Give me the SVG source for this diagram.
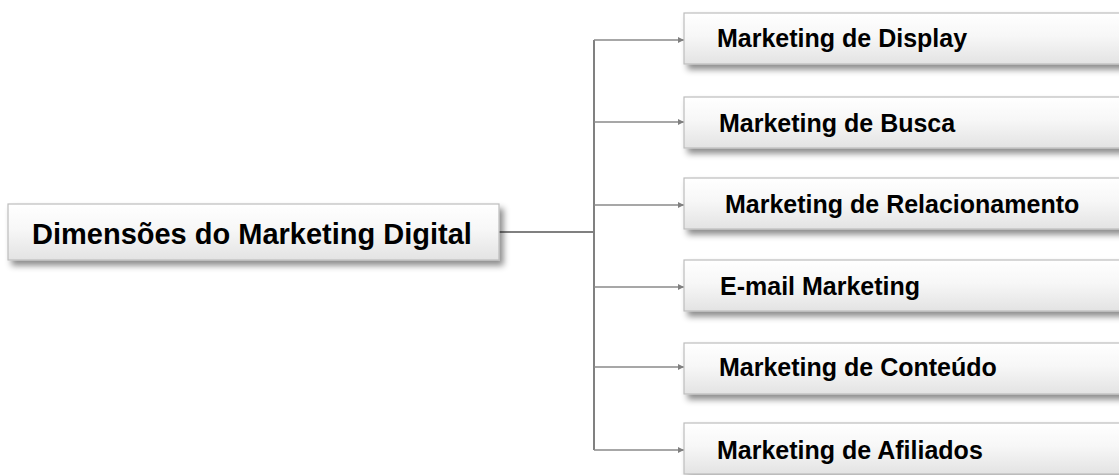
<svg xmlns="http://www.w3.org/2000/svg" width="1119" height="475" viewBox="0 0 1119 475">
<defs>
<linearGradient id="g" x1="0" y1="0" x2="0" y2="1">
<stop offset="0" stop-color="#ffffff"/>
<stop offset="0.45" stop-color="#f7f7f7"/>
<stop offset="1" stop-color="#e3e3e3"/>
</linearGradient>
<filter id="sh" x="-5%" y="-20%" width="115%" height="160%">
<feDropShadow dx="4" dy="5" stdDeviation="3" flood-color="#000" flood-opacity="0.45"/>
</filter>
<marker id="ah" viewBox="0 0 10 10" refX="10" refY="5" markerWidth="7" markerHeight="6" markerUnits="userSpaceOnUse" orient="auto">
<path d="M0,0 L10,5 L0,10 Z" fill="#808080"/>
</marker>
</defs>
<style>
.box{fill:url(#g);stroke:#bdbdbd;stroke-width:1.2;filter:url(#sh)}
.t{font-family:"Liberation Sans",Arial,sans-serif;font-weight:bold;fill:#000}
.s{font-size:25px}
.c{fill:none;stroke:#808080;stroke-width:2}
.b{fill:none;stroke:#8a8a8a;stroke-width:1.5}
</style>
<g id="connectors">
<path class="c" d="M499,232 H594"/>
<path class="c" d="M594,40 V450"/>
<path class="b" d="M594,40 H684" marker-end="url(#ah)"/>
<path class="b" d="M594,122 H684" marker-end="url(#ah)"/>
<path class="b" d="M594,205 H684" marker-end="url(#ah)"/>
<path class="b" d="M594,287 H684" marker-end="url(#ah)"/>
<path class="b" d="M594,367 H684" marker-end="url(#ah)"/>
<path class="b" d="M594,450 H684" marker-end="url(#ah)"/>
</g>
<g id="root">
<rect class="box" x="8" y="204" width="491" height="56"/>
<text class="t" x="32" y="244" font-size="29">Dimensões do Marketing Digital</text>
</g>
<g id="n1">
<rect class="box" x="684" y="13" width="500" height="51"/>
<text class="t s" x="717" y="47">Marketing de Display</text>
</g>
<g id="n2">
<rect class="box" x="684" y="97" width="500" height="51"/>
<text class="t s" x="719" y="132">Marketing de Busca</text>
</g>
<g id="n3">
<rect class="box" x="684" y="178" width="500" height="51"/>
<text class="t s" x="725" y="213">Marketing de Relacionamento</text>
</g>
<g id="n4">
<rect class="box" x="684" y="260" width="500" height="51"/>
<text class="t s" x="720" y="295">E-mail Marketing</text>
</g>
<g id="n5">
<rect class="box" x="684" y="343" width="500" height="51"/>
<text class="t s" x="719" y="376">Marketing de Conteúdo</text>
</g>
<g id="n6">
<rect class="box" x="684" y="423" width="500" height="51"/>
<text class="t s" x="717" y="459">Marketing de Afiliados</text>
</g>
</svg>
